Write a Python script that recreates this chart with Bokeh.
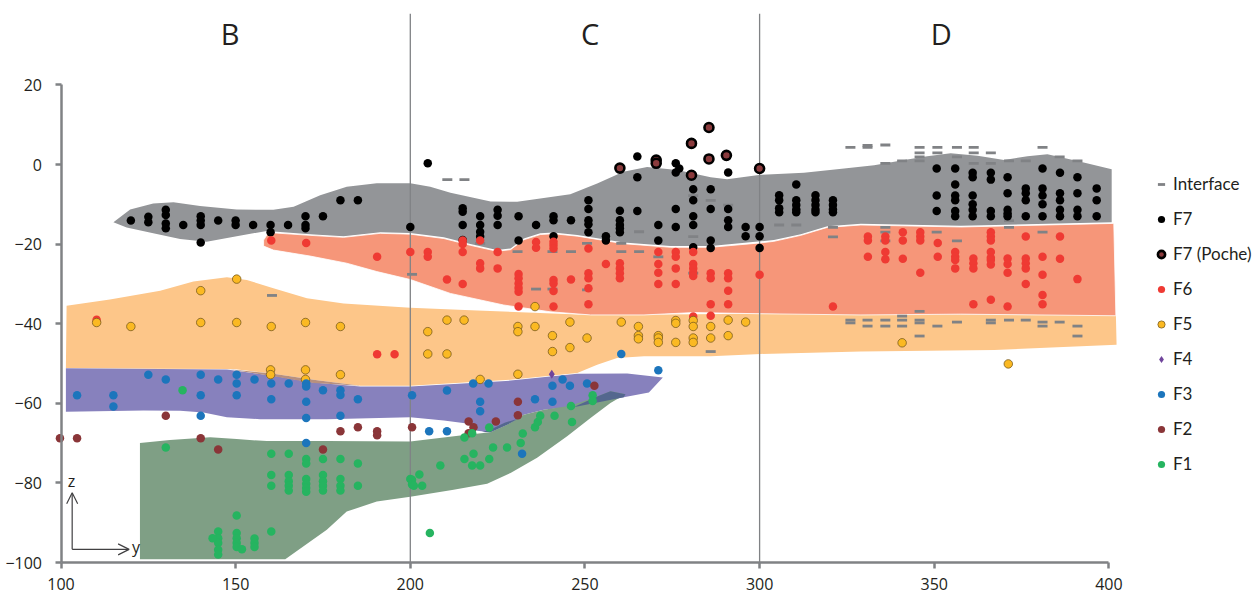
from bokeh.plotting import figure
from bokeh.embed import file_html
from bokeh.resources import INLINE
from bokeh.models import Legend, LegendItem, Span, Arrow, OpenHead, Range1d, FixedTicker
from bokeh.core.properties import value

# ---------- zones (y, z outlines) ----------
gray_y = [115,119.8,126.4,132.2,139.8,150.3,160.8,166.6,174.2,181.8,190.4,200,205.7,211.5,223,230.6,245.8,253.5,261,267.8,276.4,286,290.7,300.3,312.7,324.2,332.8,341.4,348,354.7,362.4,370,376.7,382.4,391,400.8,
          400.8,357.6,329,319.4,311.8,304.1,300.3,286,274.5,261.1,247.8,241,237.2,232.5,228.7,224.8,217.2,209.6,200,191.4,180.9,171.3,158.9,150.3,141.7,134.1,126.4,118.8]
gray_z = [-14.5,-11.3,-9.8,-9.5,-10.4,-11.3,-11.4,-10.6,-7.7,-5.6,-4.7,-4.7,-5.6,-7.1,-9.3,-9.35,-7.5,-4.75,-1.8,-0.65,-1.4,-3.2,-3.7,-2.6,-2.1,-1,-0.2,1.1,2.1,2.8,2.2,1.1,2.1,2.6,0.9,-1.2,
          -14.5,-15.4,-14.9,-15.5,-17.5,-19,-19.3,-20.5,-20.5,-19.6,-17.7,-17.1,-17.3,-18.6,-21.1,-21.5,-20,-18.3,-17.2,-17,-18,-17.5,-16.7,-18,-19.4,-18.7,-17.3,-15.8]

salmon_y = [158,159.4,171.3,180.9,191.4,200,209.6,217.2,224.8,228.7,232.5,237.2,241,247.8,261.1,274.5,286,300.3,304.1,311.8,319.4,329,357.6,401.4,
            402,357.6,329,300.3,281.2,266.9,251.6,240,226.7,211.5,200,190.4,181.8,171.3,160.8,158]
salmon_z = [-19,-17.1,-17.8,-18.3,-17.3,-17.5,-18.6,-20.3,-21.8,-21.4,-18.9,-17.6,-17.4,-18,-19.9,-20.8,-20.8,-19.7,-19.3,-17.8,-15.8,-15.2,-15.7,-14.8,
            -38,-37.6,-37.8,-37.5,-37.2,-37.8,-37.8,-37,-35.3,-32.4,-28.9,-26.9,-24.8,-23,-21.5,-20.5]

orange_y = [101.6,114,128.4,137.9,147.5,153.2,160.8,170.4,180.9,200,219.1,251.6,300.3,402,402.2,367.2,329,300.3,286,266.9,259.2,253.5,247.8,228.7,200,185.7,172.3,160.8,149.4,128.4,101.4]
orange_z = [-35.5,-33.9,-31.7,-29.4,-28.3,-29,-31.1,-33.6,-34.9,-36,-36.7,-37.8,-37.5,-37.8,-45.3,-46.6,-47,-47.6,-48.2,-48.2,-48.6,-50.3,-52.4,-54.1,-55.6,-55.6,-54.1,-52.6,-51.4,-51.3,-51.1]

purple_y = [101.4,128.4,147.5,160.8,172.3,185.7,200,228.7,247.8,262.1,272.3,268.3,261.1,247.8,238.2,232.5,227.7,222.9,219.1,216.2,209.6,200,176.1,157,147.5,140.8,134.1,123.6,101.4]
purple_z = [-51.2,-51.4,-51.5,-53.1,-54.8,-55.8,-55.8,-54.3,-52.6,-52.5,-53.5,-57.3,-58.5,-60.8,-61.6,-62.9,-65.4,-67.3,-66.9,-65.1,-64.3,-63.5,-64,-64,-63.5,-62.3,-61.9,-61.8,-62.1]

green_y = [122.6,131.2,142.7,150.3,158.9,176.1,200,214.3,222.9,227.7,232.5,238.2,245.8,253.5,257.3,261.6,257.3,251.6,244.9,236.3,228.7,222,212.4,200,190.4,181.8,176.1,164.2,122.6]
green_z = [-70,-69.2,-68.5,-69,-69.5,-69.5,-69.6,-68.1,-67.3,-65.4,-62.9,-61.6,-60.6,-58.3,-57,-57.7,-59.9,-63.7,-68.3,-73.7,-77.5,-80.2,-81.7,-83.5,-84.7,-87.2,-91.8,-99.2,-99.2]

overlap_y = [246.8,253.5,257.3,261.6,261.1,247.8]
overlap_z = [-60.9,-58.3,-57,-57.7,-58.5,-60.8]
overlap2_y = [220.5,222.9,227.7,231,227,223]
overlap2_z = [-67.2,-67.3,-65.4,-63.8,-64.9,-66.6]
strip_y = [147.5,160.8,172.3,185.7,172.3,160.8]
strip_z = [-51.4,-52.6,-54.1,-55.6,-54.9,-53.2]

# ---------- series ----------
interface_y = [210.6,215.5,281,286,200.5,230.7,236,240.7,240.7,246,250.6,250.6,260.4,260.4,265.5,265.5,271,281,281,291,220,160.4,286,
               326,330.9,330.9,336,336,340.8,345.8,345.8,345.8,345.8,350.9,350.9,356.5,356.5,361.3,361.3,361.3,366.2,366.2,371.4,376.2,381,385.9,391,
               305.6,310.5,321,321,336,336,336,350.7,356.5,371.4,371.4,381,
               326,326,330.9,330.9,336,336,340.8,340.8,340.8,345.8,345.8,345.8,345.8,350.9,356.5,366.2,366.2,371.4,376.2,381,381,385.9,391,391]
interface_z = [-3.8,-3.8,-7.8,-9,-27.6,-21.9,-31.3,-21.9,-31.3,-21.9,-19.8,-31.5,-19.8,-21.9,-16.9,-21.9,-23.2,-18.1,-27.3,-10.2,-19.8,-32.9,-47,
               4.3,4.8,4.3,4.9,0.3,0.9,4.3,2.9,1.9,0.9,4.3,2.9,4.3,1.9,4.3,2.9,0.3,2.9,0.3,0.9,0.9,4.3,1.9,0.9,
               -15.2,-15.2,-15.8,-18.2,-15.8,-17,-19.2,-17,-19.2,-14.1,-15.8,-17,
               -39.1,-39.8,-39.1,-40.6,-39.1,-40.6,-38.1,-39.1,-40.6,-36.9,-39.1,-39.8,-43.1,-40.6,-39.6,-39.1,-39.8,-39.1,-39.1,-39.6,-40.6,-39.6,-40.6,-43.1]

f7_y = [120,125,125,130,130,130,130,135,140,140,140,140,145,150,150,155,160,160,165,170,170,170,175,180,185,
        200,205,215,215,215,215,220,220,220,220,225,225,225,231,231,236,241,241,241,246,251,251,251,251,251,256,256,
        260,260,260,260,260,265,265,265,271,271,276,276,276,276,277,281,281,281,281,281,286,286,286,286,291,291,291,291,296,296,300,300,300,
        305.6,305.6,305.6,305.6,310.5,310.5,310.5,310.5,310.5,316,316,316,316,316,321,321,321,321,
        350.7,350.7,350.7,356,356,356,356,356,356,361,361,361,361,361,361,366.2,366.2,366.2,366.2,
        371,371,371,371,371,376.2,376.2,376.2,376.2,381,381,381,381,381,386,386,386,386,386,391,391,391,391,396.5,396.5,396.5]
f7_z = [-14.1,-13.1,-14.5,-11.4,-12.7,-14.8,-16,-15.2,-13,-14.1,-15.2,-19.6,-14.1,-14.1,-15.2,-15.2,-15.2,-17,-15.2,-13,-15.2,-16,-13,-9,-9,
        -15.7,0.3,-11,-11.9,-15.2,-19,-13,-15.2,-16.9,-18.1,-11.4,-12.9,-15.2,-13,-19.1,-15.2,-13,-14,-18,-14,-9,-11.2,-14,-15,-17,-18,-19.1,
        -11.6,-14,-15.2,-16,-17,2,-3.2,-11.7,-15.2,-19.1,0.3,-2,-11.2,-15.7,-1,-6.2,-9,-13,-15.2,-20.8,-6.2,-11.2,-19.1,-21,-2,-11.2,-14,-15.7,-15.7,-18,-15.7,-18,-21,
        -7.7,-9,-11,-12,-5,-9,-10.2,-11.3,-12,-7.7,-9,-10.2,-11.3,-12,-9,-10.2,-11.3,-12,
        -1,-7.8,-11.7,-1,-5,-7.8,-9,-11.7,-13,-2.1,-3.2,-7.8,-10,-11.4,-13,-2.1,-3.8,-11.7,-13,
        -3.2,-7.2,-11.4,-12.3,-13,-6,-7.2,-9,-13,-1,-6,-7.8,-10,-13,-2.1,-7.2,-9,-11.4,-13,-3.2,-7.2,-11.4,-13,-6,-9,-13]

poche_y = [260,270.4,270.4,280.5,285.5,285.5,290.5,280.5,300]
poche_z = [-0.9,1.1,0.3,5.3,9.3,1.4,2.3,-2.7,-1]

f6_y = [110.2,160.2,170.2,190.5,190.5,195.5,200,205,205,210.5,215,215,215,215,220,220,220,225,225,
        231,231,231,231,231,231,236,236,241,241,241,241,241,241,241,246,251,251,251,251,251,256,
        260,260,260,260,271,271,271,271,276,276,276,276,281,281,281,281,281,281,286,286,286,286,291,291,291,291,300,
        321,331,331,331,336,336,336,336,341,341,341,346,346,346,346,351,351,356,356,356,356,361.2,361.2,361.2,361.2,
        366.2,366.2,366.2,366.2,366.2,366.2,366.2,366.2,371,371,371,371,376.2,376.2,376.2,376.2,376.2,381,381,381,381,386,386,391]
f6_z = [-39,-19.1,-19.7,-23.2,-47.7,-47.7,-22,-22,-23.2,-28.9,-19.1,-20,-22,-30,-19.1,-24.8,-26.1,-22,-26.1,
        -27.5,-28.6,-29.9,-31,-32,-35.7,-19.5,-20.9,-19.4,-20.2,-21.1,-29,-29.9,-31.8,-35.7,-28.9,-21.1,-27.3,-28.6,-31.1,-35.1,-25,
        -24.8,-26.1,-27.3,-28.6,-22,-25,-27.2,-30,-22,-23.2,-26.1,-30,-22,-25,-26.1,-27.2,-28,-38.2,-27.3,-28.6,-35.1,-38,-27.3,-28.6,-31.7,-35.1,-27.7,
        -35.7,-18.1,-19.1,-23.2,-18.1,-19.1,-22,-23.8,-17,-19.1,-23.7,-17,-18.1,-19.1,-27.2,-19.7,-23.2,-22,-23.2,-24,-26.1,-23.6,-24.8,-26.1,-35.1,
        -17,-18.1,-19.1,-22,-23.4,-24,-25.1,-34,-23.6,-25,-27.2,-35.7,-18.1,-23.6,-24.8,-26.1,-30,-23.2,-27.7,-32.8,-35.1,-18.1,-23.7,-28.8]

f5_y = [110.2,120,140,140,150.3,150.3,160.2,170,180,160,160,170,170,180,
        205,205,210.5,210.5,215.4,220,230.8,230.8,230.8,235.7,235.7,240.7,240.7,245.7,245.7,250.6,260.4,265.3,265.3,265.3,
        271,271,271,276,276,276,281,281,281,281,286,286,291,291,296,340.8,371.2]
f5_z = [-39.7,-40.7,-31.7,-39.7,-28.8,-39.7,-40.7,-39.7,-40.7,-51.6,-52.8,-51.6,-54,-52.8,
        -42,-47.6,-39.1,-47.6,-39.1,-54,-40.7,-42,-52.7,-40.7,-35.7,-43,-47,-39.6,-46,-43.6,-39.6,-40.7,-43,-43.8,
        -43,-43.6,-44.7,-39.2,-39.9,-44.7,-39.2,-40.7,-43.6,-44.7,-40.7,-43.6,-39.1,-43,-39.6,-44.8,-50.1]

f4_y = [240.5]
f4_z = [-52.7]

f3_y = [104.6,115,115,125,130,140,140,140,145,150.3,150.3,150.3,155.4,160.2,160.2,165.2,170.2,170.2,170.2,170.2,170.2,175,180,180,180,185,
        200.5,205.4,210.5,210.5,218,222.4,220,220,232,235.7,240.7,240.7,243.6,245.7,250.6,260.4,271]
f3_z = [-58,-58,-60.8,-52.8,-54,-52.8,-58,-63.1,-54,-52.8,-55,-58,-54,-55,-59,-55,-55,-55.8,-59.6,-63.7,-70,-56.7,-56.7,-57.9,-63.1,-59,
        -58,-67,-56.8,-67,-55,-55,-59.6,-62,-72.7,-59,-55.6,-59.6,-54,-55.6,-55,-47.6,-51.7]

f2_y = [99.7,104.6,130,140,145,175,180,185,190.5,190.5,200.5,216.7,216.7,218.1,224.5,230.8,230.8,252.7]
f2_z = [-68.8,-68.8,-63.1,-68.8,-71.6,-71.6,-67,-66,-67,-68,-66,-64.6,-67.5,-66,-64.6,-59.6,-63,-55.6]

f1_y = [130,134.8,160.2,160.2,160.2,160.2,165.2,165.2,165.2,165.2,165.2,170.2,170.2,170.2,170.2,170.2,170.2,175,175,175,175,175,180,180,180,180,185,185,200,
        150.3,150.3,150.3,150.3,150.3,151.8,155.4,155.4,155.4,145,145,145,145,145,143.4,
        200.5,200.5,201,202.6,203.4,208.6,215.5,215.5,217.7,217.7,218.1,220,222.6,222.6,223.7,227.7,231.6,232.2,235.7,236.5,237.2,241.3,246,246.3,252.2,252.2,205.6]
f1_z = [-71.1,-56.7,-72.7,-78,-80.7,-92.2,-72.7,-78,-79.6,-80.7,-81.9,-74,-75.1,-79,-80.2,-81.3,-82.2,-74,-78,-79.6,-80.7,-81.9,-74,-79,-80.7,-81.9,-75.1,-80.7,-79,
        -88.2,-92.6,-93.9,-95.1,-96.1,-96.7,-94,-95.1,-96.1,-92.2,-93.9,-95.1,-96.8,-98,-93.9,
        -79.2,-80.4,-80.7,-77.9,-80.7,-75.6,-74,-68.6,-75.6,-67.5,-72.7,-75.6,-74,-66.1,-71.1,-71.1,-70,-67.6,-66,-64.7,-63.1,-63.1,-60.7,-64.7,-58,-59.4,-92.6]

zone_labels = ["B", "C", "D"]
zone_label_y = [148.4, 251.5, 352]
zone_label_z = [32.9, 32.9, 32.9]
y_ticks = [100, 150, 200, 250, 300, 350, 400]
z_ticks = [20, 0, -20, -40, -60, -80, -100]
boundaries_y = [200, 300]
boundaries_z = [-100, 37.9]

AXIS = "#808285"
TEXT = "#231F20"
TICK_FONT = "Open Sans"

PX_X = 3.493
PX_Z = 3.98
x0 = 100 - 60.5 / PX_X
z0 = -100 - 34 / PX_Z
p = figure(frame_width=1257, frame_height=596, width=1257, height=596,
           x_range=Range1d(x0, x0 + 1257 / PX_X),
           y_range=Range1d(z0, z0 + 596 / PX_Z),
           output_backend="svg", toolbar_location=None,
           min_border_left=0, min_border_right=0, min_border_top=0, min_border_bottom=0,
           background_fill_color="white", border_fill_color="white")
p.outline_line_color = None
p.grid.visible = False

for ax, ticks in ((p.xaxis[0], y_ticks), (p.yaxis[0], z_ticks)):
    ax.ticker = FixedTicker(ticks=ticks)
    ax.axis_line_color = AXIS
    ax.axis_line_width = 2.5
    ax.major_tick_line_color = AXIS
    ax.major_tick_line_width = 2.5
    ax.major_tick_out = 6
    ax.major_tick_in = 0
    ax.minor_tick_out = 0
    ax.minor_tick_in = 0
    ax.major_label_text_font = TICK_FONT
    ax.major_label_text_font_size = "16px"
    ax.major_label_text_color = TEXT
p.xaxis[0].bounds = (100, 400)
p.yaxis[0].bounds = (-100, 20)
p.xaxis[0].fixed_location = -100
p.yaxis[0].fixed_location = 100
p.xaxis[0].major_label_standoff = 9
p.yaxis[0].major_label_standoff = 13

# zones
p.patch(orange_y, orange_z, fill_color="#FDC689", line_color=None)
p.patch(purple_y, purple_z, fill_color="#8781BD", line_color=None)
p.patch(green_y, green_z, fill_color="#7F9F85", line_color=None)
p.patch(gray_y, gray_z, fill_color="#939598", line_color=None)
p.patch(salmon_y, salmon_z, fill_color="#F69679", line_color="white", line_width=0.8)
p.patch(overlap_y, overlap_z, fill_color="#54678E", line_color=None)
p.patch(overlap2_y, overlap2_z, fill_color="#54678E", line_color=None)
p.patch(strip_y, strip_z, fill_color="#B8907F", line_color=None)

for b in boundaries_y:
    p.line([b, b], boundaries_z, line_color=AXIS, line_width=1.3)

r_int = p.scatter(interface_y, interface_z, marker="dash", size=10, line_color=AXIS, line_width=2.8)
r_f7 = p.scatter(f7_y, f7_z, marker="circle", size=8.5, fill_color="black", line_color=None)
r_poche = p.scatter(poche_y, poche_z, marker="circle", size=9, fill_color="#8A3A3C", line_color="black", line_width=2.6)
r_f6 = p.scatter(f6_y, f6_z, marker="circle", size=8.5, fill_color="#EF3A33", line_color=None)
r_f5 = p.scatter(f5_y, f5_z, marker="circle", size=8.5, fill_color="#FBB922", line_color="#7A5C1E", line_width=0.8)
r_f4 = p.scatter(f4_y, f4_z, marker="diamond", size=9, fill_color="#70459C", line_color=None)
r_f3 = p.scatter(f3_y, f3_z, marker="circle", size=8.5, fill_color="#1C75BC", line_color=None)
r_f2 = p.scatter(f2_y, f2_z, marker="circle", size=8.5, fill_color="#8A3538", line_color=None)
r_f1 = p.scatter(f1_y, f1_z, marker="circle", size=8.5, fill_color="#26B460", line_color=None)

p.text(zone_label_y, zone_label_z, text=zone_labels, text_font=value(TICK_FONT), text_font_size="29px",
       text_color=TEXT, text_align="center", text_baseline="middle")

# orientation sign
p.add_layout(Arrow(end=OpenHead(size=11, line_color="#414042", line_width=1.2), x_start=103.2, y_start=-96.7, x_end=103.2, y_end=-82.5,
                   line_color="#414042", line_width=1.2))
p.add_layout(Arrow(end=OpenHead(size=11, line_color="#414042", line_width=1.2), x_start=103.2, y_start=-96.7, x_end=119.5, y_end=-96.7,
                   line_color="#414042", line_width=1.2))
p.text([103, 121.5], [-79.4, -96], text=["z", "y"], text_font=value(TICK_FONT), text_font_size="16px",
       text_color=TEXT, text_align="center", text_baseline="middle")

legend = Legend(items=[LegendItem(label=l, renderers=[r]) for l, r in [
    ("Interface", r_int), ("F7", r_f7), ("F7 (Poche)", r_poche), ("F6", r_f6), ("F5", r_f5),
    ("F4", r_f4), ("F3", r_f3), ("F2", r_f2), ("F1", r_f1)]],
    location=(1152, 122), orientation="vertical",
    glyph_width=18, glyph_height=20, label_height=20, spacing=14, margin=0, padding=0,
    label_standoff=3, background_fill_alpha=0, border_line_color=None,
    label_text_font="Lato", label_text_font_size="17px", label_text_color=TEXT)
p.add_layout(legend, "center")

open("out.html", "w").write(file_html(p, INLINE))
